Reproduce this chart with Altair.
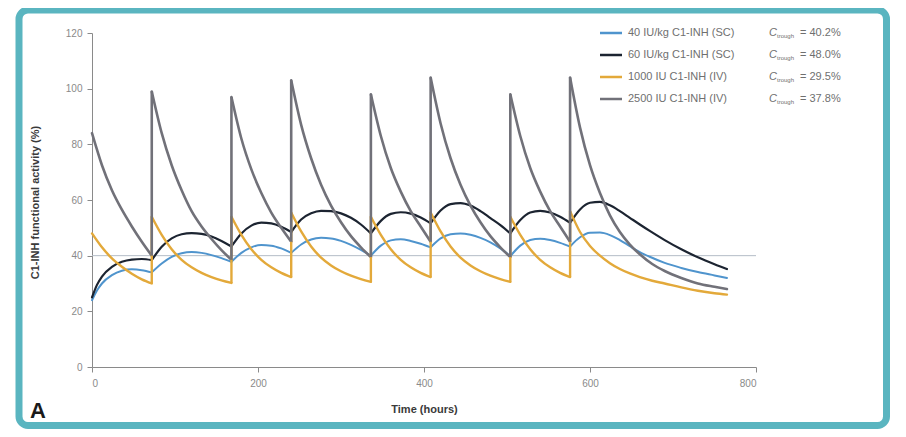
import altair as alt
import pandas as pd

# ---------------- data ----------------
series_names = [
    "40 IU/kg C1-INH (SC)",
    "60 IU/kg C1-INH (SC)",
    "1000 IU C1-INH (IV)",
    "2500 IU C1-INH (IV)",
]
series_colors = ["#4f94cd", "#1c2431", "#e3a93a", "#717179"]
series_widths = [2.0, 2.6, 2.0, 2.0]
ctrough_values = ["40.2%", "48.0%", "29.5%", "37.8%"]
dose_times = [0, 72, 168, 240, 336, 408, 504, 576]
reference_level = 40
x_ticks = [0, 200, 400, 600, 800]
y_ticks = [0, 20, 40, 60, 80, 100, 120]

# subcutaneous curves (hours)
t_sc = [0, 6, 12, 24, 36, 48, 60, 72,
        84, 96, 108, 120, 132, 144, 156, 168,
        180, 192, 204, 216, 228, 240,
        252, 264, 276, 288, 300, 312, 324, 336,
        348, 360, 372, 384, 396, 408,
        420, 432, 444, 456, 468, 480, 492, 504,
        516, 528, 540, 552, 564, 576,
        588, 600, 612, 624, 636, 648, 660, 672,
        690, 710, 730, 750, 765]
v_40sc = [24, 27.5, 30, 33, 34.6, 35.1, 34.8, 34,
          37.2, 39.6, 40.9, 41.3, 41, 40.2, 39.1, 37.8,
          41, 43, 43.8, 43.6, 42.6, 41,
          44, 45.8, 46.4, 46.2, 45.3, 43.9, 42.1, 40,
          43.6, 45.5, 45.9, 45.3, 44.3, 43,
          46.2, 47.7, 48, 47.5, 46.4, 44.8, 42.6, 39.8,
          43.6, 45.6, 46.1, 45.6, 44.6, 43.3,
          46.6, 48.2, 48.3, 47.4, 45.6, 43.4, 41.3, 39.6,
          37.4, 35.6, 34.1, 32.9, 32]
v_60sc = [25, 29.5, 32.5, 36, 37.8, 38.6, 38.8, 38.4,
          43.2, 46.2, 47.7, 48.1, 47.8, 46.9, 45.3, 43.3,
          48, 50.8, 51.9, 51.6, 50.4, 48.5,
          53, 55.2, 56.1, 56, 55.2, 53.6, 51.2, 48,
          52.5, 55, 55.6, 55.1, 53.7, 51.6,
          56.2, 58.5, 58.9, 58, 56, 53.5, 51, 48,
          52.8, 55.5, 56.1, 55.5, 54, 51.8,
          56.6, 59, 59.3, 58.1, 56, 53.6, 51.2, 48.9,
          45.6, 42.3, 39.4, 36.9, 35.2]

# intravenous curves (hours); a repeated time is the trough then the new peak
t_iv = [0, 12, 24, 36, 48, 60, 72,
        72, 84, 96, 108, 120, 132, 144, 156, 168,
        168, 180, 192, 204, 216, 228, 240,
        240, 252, 264, 276, 288, 300, 312, 324, 336,
        336, 348, 360, 372, 384, 396, 408,
        408, 420, 432, 444, 456, 468, 480, 492, 504,
        504, 516, 528, 540, 552, 564, 576,
        576, 588, 600, 612, 624, 636, 648, 660, 675, 690, 710, 730, 750, 765]
v_1000iv = [48, 43, 39, 36, 33.5, 31.5, 30,
            54, 47.5, 42.3, 38.5, 35.8, 33.8, 32.3, 31.1, 30.2,
            54, 47.5, 42.3, 38.5, 35.8, 33.8, 32.3,
            55.5, 48.7, 43.3, 39.3, 36.5, 34.4, 32.8, 31.6, 30.6,
            54, 47.5, 42.3, 38.5, 35.8, 33.8, 32.3,
            55.5, 48.7, 43.3, 39.3, 36.5, 34.4, 32.8, 31.6, 30.6,
            54, 47.5, 42.3, 38.5, 35.8, 33.8, 32.3,
            56, 48.5, 43.5, 40, 37.3, 35.2, 33.6, 32.3, 31, 30, 28.6, 27.4, 26.5, 26]
v_2500iv = [84, 72.5, 63.5, 56.5, 50.5, 45, 40,
            99, 84, 72.5, 63.5, 56, 50.5, 46, 42, 38.5,
            97, 82, 71, 62.5, 55.5, 50, 45,
            103, 87, 75, 65.5, 58, 52, 47, 43, 39.5,
            98, 83, 71.5, 63, 56, 50.5, 45,
            104, 87.5, 75, 65.5, 58, 52, 47, 43, 39.5,
            98, 83, 71.5, 63, 56, 50.5, 45,
            104, 86, 72.5, 62.5, 54.5, 48.5, 44, 40.5, 37, 34.5, 32, 30, 28.8, 28]

# ---------------- tables ----------------
curves = [
    (series_names[0], t_sc, v_40sc),
    (series_names[1], t_sc, v_60sc),
    (series_names[2], t_iv, v_1000iv),
    (series_names[3], t_iv, v_2500iv),
]
rows, spikes = [], []
idx = 0
for name, ts, vs in curves:
    seg = 0
    n = len(ts)
    for i in range(n):
        t, v = ts[i], vs[i]
        if i > 0 and t == ts[i - 1]:
            spikes.append({"series": name, "t": t, "y": vs[i - 1], "y2": v})
            seg += 1
            rows.append({"series": name, "key": f"{name}|{seg}", "t": t, "v": v, "idx": idx})
            idx += 1
        else:
            rows.append({"series": name, "key": f"{name}|{seg}", "t": t, "v": v, "idx": idx})
            idx += 1
            if t in dose_times[1:] and i + 1 < n and ts[i + 1] != t:
                seg += 1
                rows.append({"series": name, "key": f"{name}|{seg}", "t": t, "v": v, "idx": idx})
                idx += 1
df = pd.DataFrame(rows)
spike_df = pd.DataFrame(spikes)
ref_df = pd.DataFrame({"t": [x_ticks[0]], "t2": [x_ticks[-1]], "v": [reference_level]})
leg_df = pd.DataFrame({
    "series": series_names,
    "row": list(range(len(series_names))),
    "ctext": ["= " + c for c in ctrough_values],
})

FONT = "Liberation Sans"
color_scale = alt.Scale(domain=series_names, range=series_colors)
width_scale = alt.Scale(domain=series_names, range=series_widths)

x_enc = alt.X("t:Q", scale=alt.Scale(domain=[0, 800], nice=False),
              axis=alt.Axis(values=x_ticks, title="Time (hours)", titleY=36,
                            labelPadding=6, tickSize=5))
y_enc = alt.Y("v:Q", scale=alt.Scale(domain=[0, 120], nice=False),
              axis=alt.Axis(values=y_ticks, title="C1-INH functional activity (%)",
                            titleX=-57, titleY=169, titleBaseline="middle",
                            titleAlign="center", labelPadding=5, tickSize=5))

ref_rule = alt.Chart(ref_df).mark_rule(color="#b3bcc6", strokeWidth=1).encode(
    x=x_enc, x2="t2:Q", y=y_enc)

lines = alt.Chart(df).mark_line(interpolate="monotone", strokeCap="round").encode(
    x="t:Q", y="v:Q",
    color=alt.Color("series:N", scale=color_scale, legend=None),
    strokeWidth=alt.StrokeWidth("series:N", scale=width_scale, legend=None),
    detail="key:N",
    order="idx:Q",
)

spike_rules = alt.Chart(spike_df).mark_rule().encode(
    x="t:Q", y="y:Q", y2="y2:Q",
    color=alt.Color("series:N", scale=color_scale, legend=None),
    strokeWidth=alt.StrokeWidth("series:N", scale=width_scale, legend=None),
)

main = alt.layer(ref_rule, lines, spike_rules)

# manual legend
leg_y = alt.Y("row:Q", scale=alt.Scale(domain=[0, 3], range=[0, 66], nice=False, zero=False), axis=None)
leg_base = alt.Chart(leg_df)
leg_lines = leg_base.mark_rule(strokeWidth=2.5).encode(
    x=alt.value(508), x2=alt.value(530), y=leg_y,
    color=alt.Color("series:N", scale=color_scale, legend=None))
leg_text = leg_base.mark_text(align="left", baseline="middle", font=FONT,
                              fontSize=11, color="#6f6f6f").encode(
    x=alt.value(536), y=leg_y, text="series:N")
leg_c = leg_base.mark_text(align="left", baseline="middle", font=FONT, fontStyle="italic",
                           fontSize=11, color="#6f6f6f").encode(
    x=alt.value(677), y=leg_y, text=alt.value("C"))
leg_sub = leg_base.mark_text(align="left", baseline="middle", font=FONT, dy=3,
                             fontSize=6, color="#6f6f6f").encode(
    x=alt.value(685), y=leg_y, text=alt.value("trough"))
leg_val = leg_base.mark_text(align="left", baseline="middle", font=FONT,
                             fontSize=11, color="#6f6f6f").encode(
    x=alt.value(708), y=leg_y, text="ctext:N")
legend = alt.layer(leg_lines, leg_text, leg_c, leg_sub, leg_val)

# frame and panel letter
one = pd.DataFrame({"a": [0]})
frame = alt.Chart(one).mark_rect(fillOpacity=0, stroke="#5ab5c0", strokeWidth=7,
                                 cornerRadius=9).encode(
    x=alt.value(-73), x2=alt.value(794.5), y=alt.value(-23), y2=alt.value(392.5))
letter = alt.Chart(one).mark_text(align="left", baseline="alphabetic", font=FONT,
                                  fontSize=22, fontWeight="bold", color="#1a1a1a").encode(
    x=alt.value(-62), y=alt.value(385), text=alt.value("A"))

chart = alt.layer(main, legend, frame, letter).resolve_scale(y="independent").properties(
    width=664, height=334,
    autosize=alt.AutoSizeParams(type="none"),
    padding={"left": 84, "top": 25, "right": 142, "bottom": 62},
    background="white",
).configure_view(stroke=None).configure_axis(
    grid=False, domainColor="#8a8a8a", tickColor="#8a8a8a", labelColor="#8a8a8a",
    labelFont=FONT, labelFontSize=10, titleFont=FONT, titleFontSize=11,
    titleFontWeight="bold", titleColor="#3a3a3a",
)

chart.save("out.html", embed_options={"renderer": "svg", "actions": False})
